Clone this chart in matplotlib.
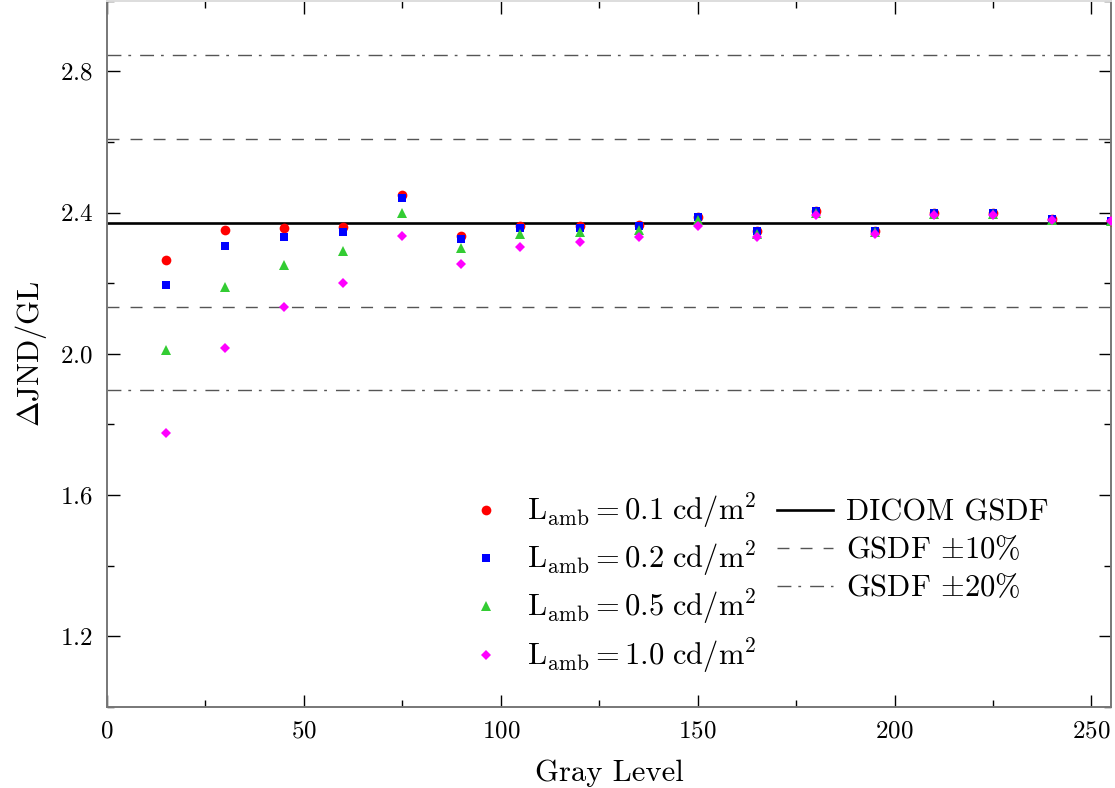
import numpy as np
import matplotlib as mpl
mpl.use('Agg')
import matplotlib.pyplot as plt

mpl.rcParams['font.family'] = 'serif'
mpl.rcParams['font.serif'] = ['cmr10']
mpl.rcParams['mathtext.fontset'] = 'cm'
mpl.rcParams['axes.formatter.use_mathtext'] = True

# gray levels
gray_level = [15, 30, 45, 60, 75, 90, 105, 120, 135, 150, 165, 180, 195, 210, 225, 240, 255]

# dJND/GL for each ambient luminance
jnd_01 = [2.265, 2.350, 2.355, 2.360, 2.450, 2.335, 2.362, 2.362, 2.365, 2.387, 2.347, 2.405, 2.347, 2.400, 2.400, 2.382, 2.375]
jnd_02 = [2.195, 2.305, 2.330, 2.345, 2.440, 2.325, 2.357, 2.357, 2.362, 2.387, 2.347, 2.405, 2.347, 2.400, 2.400, 2.382, 2.375]
jnd_05 = [2.012, 2.190, 2.252, 2.290, 2.400, 2.300, 2.340, 2.345, 2.350, 2.380, 2.340, 2.400, 2.345, 2.395, 2.395, 2.380, 2.375]
jnd_10 = [1.775, 2.017, 2.132, 2.202, 2.335, 2.253, 2.303, 2.317, 2.332, 2.362, 2.330, 2.392, 2.340, 2.392, 2.392, 2.380, 2.375]

gsdf = 2.371
lamb_labels = ['0.1', '0.2', '0.5', '1.0']

fig = plt.figure(figsize=(11.15, 7.88), dpi=100)
ax = fig.add_axes([0.096, 0.103, 0.9005, 0.896])

series = [jnd_01, jnd_02, jnd_05, jnd_10]
markers = ['o', 's', '^', 'D']
msizes = [7.0, 6.2, 7.2, 5.2]
colors = ['#ff0000', '#0000ff', '#33cc33', '#ff00ff']
for vals, m, ms, c, lab in zip(series, markers, msizes, colors, lamb_labels):
  ax.plot(gray_level, vals, m, color=c, markersize=ms, markeredgewidth=0,
          label=r'$\mathrm{L_{amb}} = %s\ \mathrm{cd/m^2}$' % lab, zorder=3)

ax.axhline(gsdf, color='black', lw=1.9, label='DICOM GSDF', zorder=2)
grey = '#555555'
ax.axhline(gsdf * 1.1, color=grey, lw=1.0, dashes=(8.6, 8.0), label=r'GSDF $\pm10\%$')
ax.axhline(gsdf * 0.9, color=grey, lw=1.0, dashes=(8.6, 8.0))
ax.axhline(gsdf * 1.2, color=grey, lw=1.0, dashes=(10.0, 5.0, 2.0, 6.5), label=r'GSDF $\pm20\%$')
ax.axhline(gsdf * 0.8, color=grey, lw=1.0, dashes=(10.0, 5.0, 2.0, 6.5))

ax.set_xlim(0, 255)
ax.set_ylim(1.0, 3.0)
ax.set_xticks([0, 50, 100, 150, 200, 250])
ax.set_xticks([25, 75, 125, 175, 225], minor=True)
ax.set_yticks([1.2, 1.6, 2.0, 2.4, 2.8])
ax.set_yticks([1.0, 1.4, 1.8, 2.2, 2.6, 3.0], minor=True)
ax.tick_params(which='both', direction='in', top=True, right=True, labelsize=18, colors='black')
ax.tick_params(which='major', length=9, width=1.0, pad=10)
ax.tick_params(which='minor', length=5, width=1.0)

for sp in ax.spines.values():
  sp.set_color('#777777')
  sp.set_linewidth(1.4)
ax.spines['top'].set_color('#dddddd')

ax.set_xlabel('Gray Level', fontsize=22, labelpad=12)
ax.set_ylabel(r'$\Delta\mathrm{JND/GL}$', fontsize=22, labelpad=8)

leg = ax.legend(ncol=2, loc='lower left', bbox_to_anchor=(0.3217, 0.005), frameon=False,
                fontsize=22, handlelength=1.83, handletextpad=0.45, columnspacing=0.65,
                labelspacing=0.3, numpoints=1)

plt.savefig('out.png', dpi=100)
